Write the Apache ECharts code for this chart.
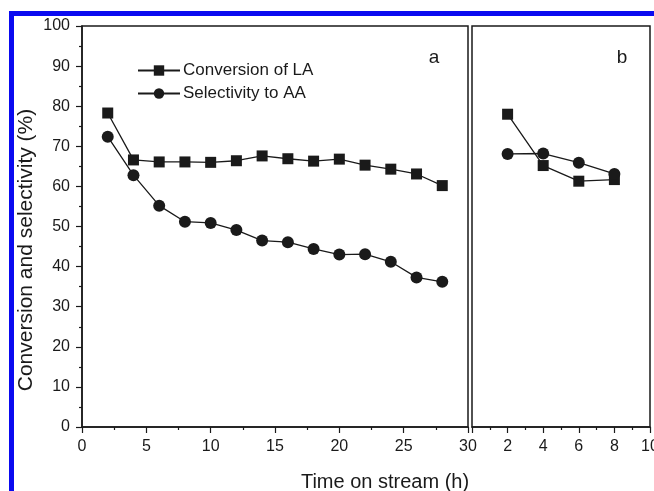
<!DOCTYPE html>
<html>
<head>
<meta charset="utf-8">
<script src="https://cdn.jsdelivr.net/npm/echarts@6/dist/echarts.min.js"></script>
<style>
  html, body { margin: 0; padding: 0; background: #fff; }
  #chart { width: 654px; height: 491px; }
</style>
</head>
<body>
<div id="chart"></div>
<script>
// panel a: long run
const timeA = [2, 4, 6, 8, 10, 12, 14, 16, 18, 20, 22, 24, 26, 28];
const convA = [78.3, 66.6, 66.1, 66.1, 66.0, 66.4, 67.6, 66.9, 66.3, 66.8, 65.3, 64.3, 63.1, 60.2];
const selA = [72.4, 62.8, 55.2, 51.2, 50.9, 49.1, 46.5, 46.1, 44.4, 43.0, 43.1, 41.2, 37.3, 36.2];
// panel b: short run
const timeB = [2, 4, 6, 8];
const convB = [78.0, 65.2, 61.3, 61.7];
const selB = [68.1, 68.2, 65.9, 63.1];

const seriesNames = ["Conversion of LA", "Selectivity to AA"];
const panelLabels = ["a", "b"];

const FONT = "'Liberation Sans', Arial, sans-serif";
const INK = "#1a1a1a";

function pairs(xs, ys) {
  return xs.map((x, i) => [x, ys[i]]);
}

const chart = echarts.init(document.getElementById("chart"));

const axisCommon = {
  axisLine: { show: true, lineStyle: { color: INK, width: 1.5 } },
  axisTick: { show: true, inside: false, length: 6, lineStyle: { color: INK, width: 1.2 } },
  minorTick: { show: true, splitNumber: 2, length: 3, lineStyle: { color: INK, width: 1.2 } },
  splitLine: { show: false },
  axisLabel: { color: INK, fontFamily: FONT, fontSize: 16, margin: 12 }
};

function lineSeries(name, data, symbol, size, axisIdx) {
  return {
    name: name,
    type: "line",
    xAxisIndex: axisIdx,
    yAxisIndex: axisIdx,
    data: data,
    symbol: symbol,
    symbolSize: size,
    showAllSymbol: true,
    lineStyle: { color: INK, width: 1.3 },
    itemStyle: { color: INK },
    emphasis: { disabled: true },
    animation: false
  };
}

chart.setOption({
  animation: false,
  grid: [
    { left: 82, top: 26, width: 386, height: 401, outerBoundsMode: "none", show: true, borderColor: INK, borderWidth: 1.5 },
    { left: 472, top: 26, width: 178, height: 401, outerBoundsMode: "none", show: true, borderColor: INK, borderWidth: 1.5 }
  ],
  legend: {
    orient: "vertical",
    left: 137,
    top: 62,
    itemWidth: 42,
    itemHeight: 13,
    itemGap: 6,
    padding: 0,
    selectedMode: false,
    data: seriesNames,
    textStyle: { color: INK, fontFamily: FONT, fontSize: 17, padding: [0, 0, 0, -2] }
  },
  xAxis: [
    Object.assign({}, axisCommon, { type: "value", gridIndex: 0, min: 0, max: 30, interval: 5 }),
    Object.assign({}, axisCommon, {
      type: "value", gridIndex: 1, min: 0, max: 10, interval: 2,
      axisLabel: Object.assign({}, axisCommon.axisLabel, {
        formatter: v => (v === 0 ? "" : String(v))
      })
    })
  ],
  yAxis: [
    Object.assign({}, axisCommon, { type: "value", gridIndex: 0, min: 0, max: 100, interval: 10 }),
    { type: "value", gridIndex: 1, min: 0, max: 100, show: false }
  ],
  series: [
    lineSeries(seriesNames[0], pairs(timeA, convA), "rect", 11, 0),
    lineSeries(seriesNames[1], pairs(timeA, selA), "circle", 12, 0),
    lineSeries(seriesNames[0], pairs(timeB, convB), "rect", 11, 1),
    lineSeries(seriesNames[1], pairs(timeB, selB), "circle", 12, 1)
  ],
  graphic: [
    // blue frame of the page
    { type: "rect", shape: { x: 9, y: 11, width: 5, height: 480 }, style: { fill: "#0a0af0" }, silent: true },
    { type: "rect", shape: { x: 9, y: 11, width: 645, height: 5 }, style: { fill: "#0a0af0" }, silent: true },
    {
      type: "text", x: 434, y: 58,
      style: { text: panelLabels[0], fill: INK, font: "19px " + FONT, align: "center", verticalAlign: "middle" }
    },
    {
      type: "text", x: 622, y: 58,
      style: { text: panelLabels[1], fill: INK, font: "19px " + FONT, align: "center", verticalAlign: "middle" }
    },
    {
      type: "text", x: 385, y: 482,
      style: { text: "Time on stream (h)", fill: INK, font: "20px " + FONT, align: "center", verticalAlign: "middle" }
    },
    {
      type: "text", x: 26, y: 250, rotation: Math.PI / 2,
      style: { text: "Conversion and selectivity (%)", fill: INK, font: "21px " + FONT, align: "center", verticalAlign: "middle" }
    }
  ]
});
</script>
</body>
</html>
